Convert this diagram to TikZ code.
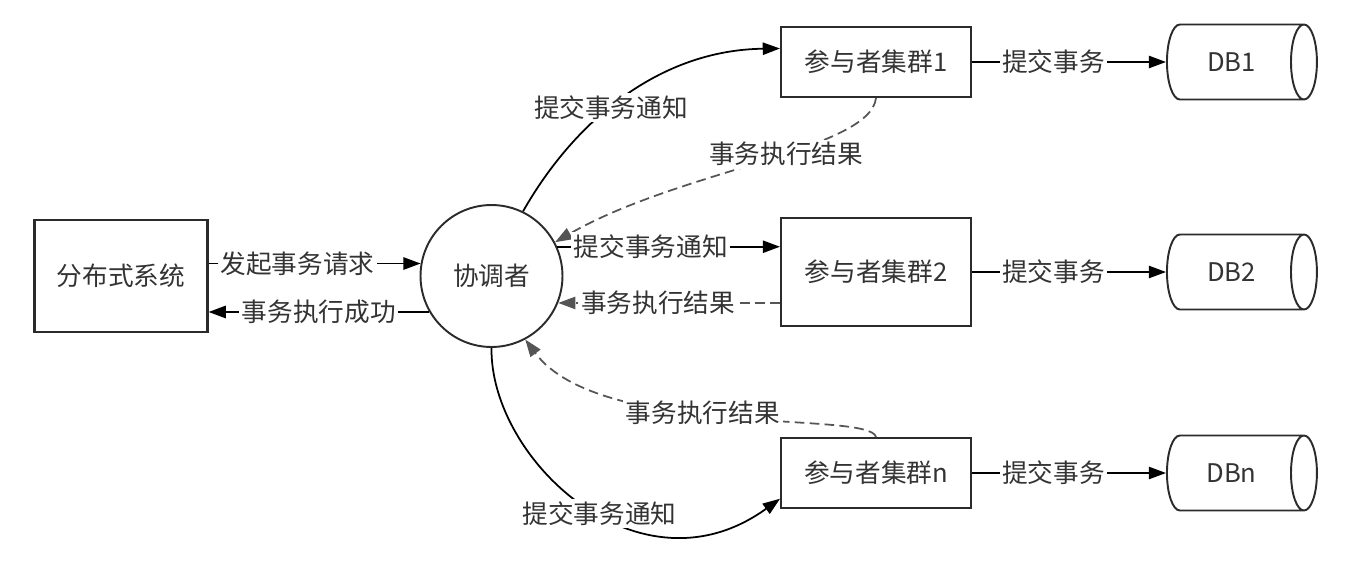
\documentclass[tikz,border=0pt]{standalone}
\usepackage{fontspec}
\setmainfont{Noto Sans CJK SC}
\usepackage{xcolor}
\usetikzlibrary{arrows.meta, positioning, shapes.geometric}
\definecolor{linegray}{HTML}{2B2B2B}
\definecolor{textgray}{HTML}{333333}
\definecolor{dashgray}{HTML}{555555}
\begin{document}
\begin{tikzpicture}[
    x=0.02cm, y=-0.02cm,
    font=\fontsize{14.6}{17}\selectfont,
    text=textgray,
    box/.style={
        rectangle,
        draw=linegray,
        line width=1.2pt,
        minimum width=3.8cm,
        minimum height=1.4cm,
        align=center
    },
    db/.style={
        cylinder,
        draw=linegray,
        line width=1.1pt,
        minimum width=1.5cm,
        minimum height=3cm,
        aspect=0.85
    },
    arrow/.style={-{Triangle[length=9.8pt,width=7pt]}, line width=1pt, draw=black},
    result/.style={arrow, draw=dashgray, dash pattern=on 5.5pt off 3pt},
    lbl/.style={fill=white, inner sep=1.5pt},
    node distance=3.88cm
]

\useasboundingbox (0,0) rectangle (1370,572);

\node[box, minimum width=3.46cm, minimum height=2.24cm] (sys) at (121,276) {分布式系统};

\node[circle, draw=linegray, line width=1.1pt, minimum size=2.84cm] (coord) at (491.5,276) {协调者};

\node[box] (p1) at (876,62) {参与者集群1};
\node[box, minimum height=2.16cm] (p2) at (876,272) {参与者集群2};
\node[box] (pn) at (876,473) {参与者集群n};

\node[db, right=of p1] (db1) {DB1};
\node[db, right=of p2] (db2) {DB2};
\node[db, right=of pn] (dbn) {DBn};

\draw[arrow] (sys.east |- coord.170) -- node[lbl, pos=0.42] {发起事务请求} (coord.170);
\draw[arrow] (coord.210) -- node[lbl, pos=0.5] {事务执行成功} (sys.east |- coord.210);

\draw[arrow] (coord.64) .. controls (575,120) and (660,50) .. node[lbl, pos=0.44] {提交事务通知} (p1.172);
\draw[result] (p1.south) .. controls (870,150) and (680,170) .. node[lbl, pos=0.43] {事务执行结果} (coord.28);

\draw[arrow] (coord.24) -- node[lbl, pos=0.42] {提交事务通知} (coord.24 -| p2.west);
\draw[result] (p2.west |- coord.-22) -- node[lbl, pos=0.55] {事务执行结果} (coord.-22);

\draw[result] (pn.north) .. controls (870,410) and (600,440) .. node[lbl, pos=0.55] {事务执行结果} (coord.-62);
\draw[arrow] (coord.south) .. controls (490,460) and (640,600) .. node[lbl, pos=0.55] {提交事务通知} (pn.195);

\foreach \p/\d in {p1/db1, p2/db2, pn/dbn}
    \draw[arrow] (\p) -- node[lbl, pos=0.42] {提交事务} (\d);

\end{tikzpicture}
\end{document}
